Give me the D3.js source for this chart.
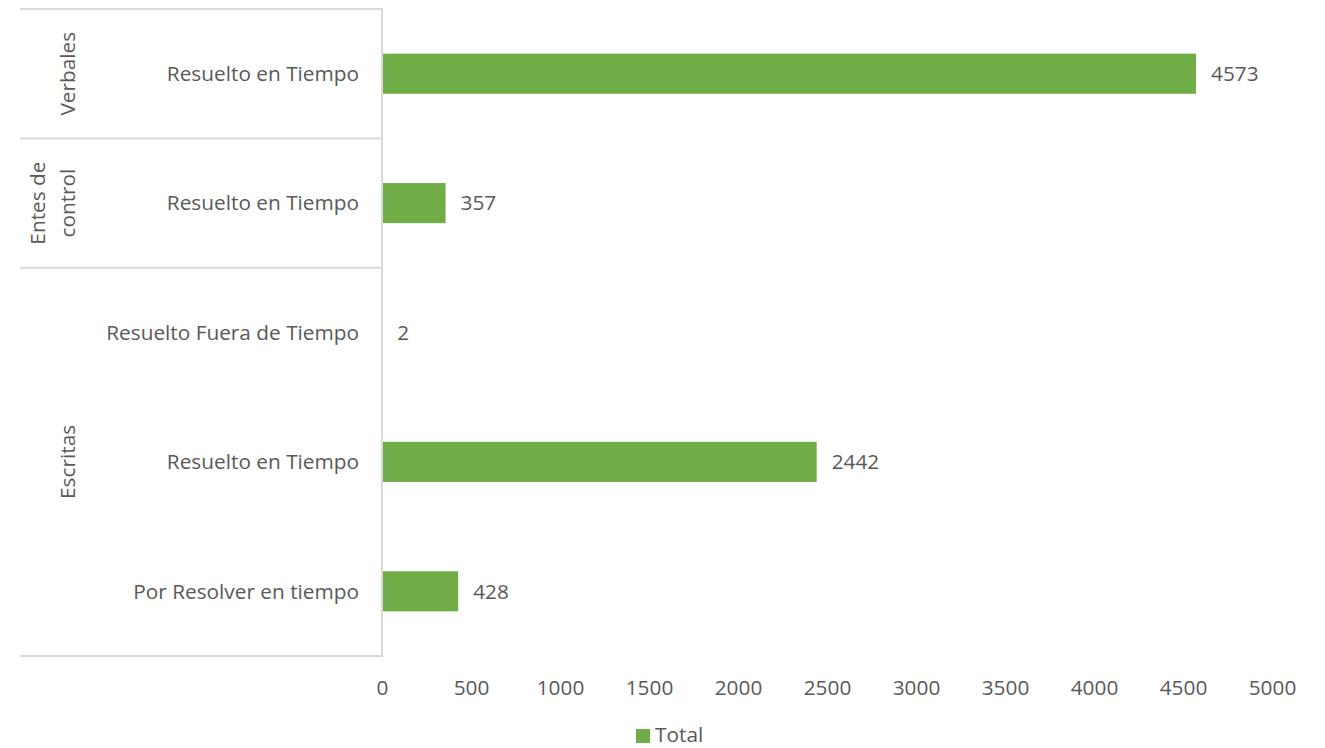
<!DOCTYPE html>
<html>
<head>
<meta charset="utf-8">
<script src="https://cdn.jsdelivr.net/npm/d3@7"></script>
<style>
  html, body { margin: 0; padding: 0; background: #fff; }
  svg text { font-family: "Open Sans", "Noto Sans", sans-serif; fill: #595959; }
</style>
</head>
<body>
<svg id="chart" width="1325" height="748"></svg>
<script>
// Rows, top to bottom
const groups = ["Verbales", "Entes de control", "Escritas", "Escritas", "Escritas"];
const categories = ["Resuelto en Tiempo", "Resuelto en Tiempo", "Resuelto Fuera de Tiempo", "Resuelto en Tiempo", "Por Resolver en tiempo"];
const totals = [4573, 357, 2, 2442, 428];
const tickValues = [0, 500, 1000, 1500, 2000, 2500, 3000, 3500, 4000, 4500, 5000];
const groupNames = [["Verbales"], ["Entes de", "control"], ["Escritas"]];
const seriesName = "Total";

const svg = d3.select("#chart");
const plot = { left: 382, right: 1272, top: 9, bottom: 656 };
const gridColor = "#d9d9d9";
const barColor = "#70ad47";
const fontSize = 20.8;

const rows = categories.map((c, i) => ({ id: i, cat: c, group: groups[i], value: totals[i] }));

const x = d3.scaleLinear().domain([0, 5000]).range([plot.left, plot.right]);
const y = d3.scaleBand().domain(rows.map(d => d.id)).range([plot.top, plot.bottom]).paddingInner(0.69).paddingOuter(0.345);
const step = y.step();

// Bars
svg.append("g").selectAll("rect").data(rows).join("rect")
  .attr("x", x(0))
  .attr("y", d => y(d.id))
  .attr("width", d => x(d.value) - x(0))
  .attr("height", y.bandwidth())
  .attr("fill", barColor);

// Value labels
svg.append("g").selectAll("text").data(rows).join("text")
  .attr("x", d => x(d.value) + 15)
  .attr("y", d => y(d.id) + y.bandwidth() / 2)
  .attr("dy", "0.35em")
  .attr("font-size", fontSize)
  .text(d => d.value);

// Category labels
svg.append("g").selectAll("text").data(rows).join("text")
  .attr("x", plot.left - 23)
  .attr("y", d => y(d.id) + y.bandwidth() / 2)
  .attr("dy", "0.35em")
  .attr("text-anchor", "end")
  .attr("font-size", fontSize)
  .text(d => d.cat);

// Group spans
const spans = [];
rows.forEach((d, i) => {
  const last = spans[spans.length - 1];
  if (last && last.group === d.group) last.end = i;
  else spans.push({ group: d.group, start: i, end: i });
});
spans.forEach((s, k) => { s.lines = groupNames[k]; });

const edgeY = i => plot.top + i * step;

// Horizontal separators between groups
const seps = [0].concat(spans.map(s => s.end + 1));
svg.append("g").selectAll("line").data(seps).join("line")
  .attr("x1", 20).attr("x2", plot.left)
  .attr("y1", d => edgeY(d)).attr("y2", d => edgeY(d))
  .attr("stroke", gridColor).attr("stroke-width", 2);

// Category axis line
svg.append("line")
  .attr("x1", plot.left).attr("x2", plot.left)
  .attr("y1", plot.top - 1).attr("y2", plot.bottom + 1)
  .attr("stroke", gridColor).attr("stroke-width", 2);

// Group labels (rotated, last line nearest the categories)
spans.forEach(s => {
  const cy = (edgeY(s.start) + edgeY(s.end + 1)) / 2;
  const n = s.lines.length;
  const lh = 30;
  const g = svg.append("g").attr("transform", `translate(${68 - (n - 1) * lh},${cy}) rotate(-90)`);
  s.lines.forEach((t, j) => {
    g.append("text")
      .attr("x", 0)
      .attr("y", j * lh)
      .attr("dy", "0.35em")
      .attr("text-anchor", "middle")
      .attr("font-size", fontSize)
      .text(t);
  });
});

// Value axis tick labels
const axis = d3.axisBottom(x).tickValues(tickValues).tickSize(0).tickPadding(0).tickFormat(d3.format("d"));
const ax = svg.append("g").attr("transform", `translate(0,${plot.bottom})`).call(axis);
ax.select(".domain").remove();
ax.selectAll("text")
  .attr("y", 32)
  .attr("dy", "0.35em")
  .attr("font-size", fontSize)
  .attr("font-family", '"Open Sans", "Noto Sans", sans-serif')
  .attr("fill", "#595959");

// Legend
const leg = svg.append("g").attr("transform", "translate(636,729)");
leg.append("rect").attr("x", 0).attr("y", 0).attr("width", 14).attr("height", 14).attr("fill", barColor);
leg.append("text").attr("x", 19).attr("y", 6).attr("dy", "0.35em").attr("font-size", fontSize).text(seriesName);
</script>
</body>
</html>
